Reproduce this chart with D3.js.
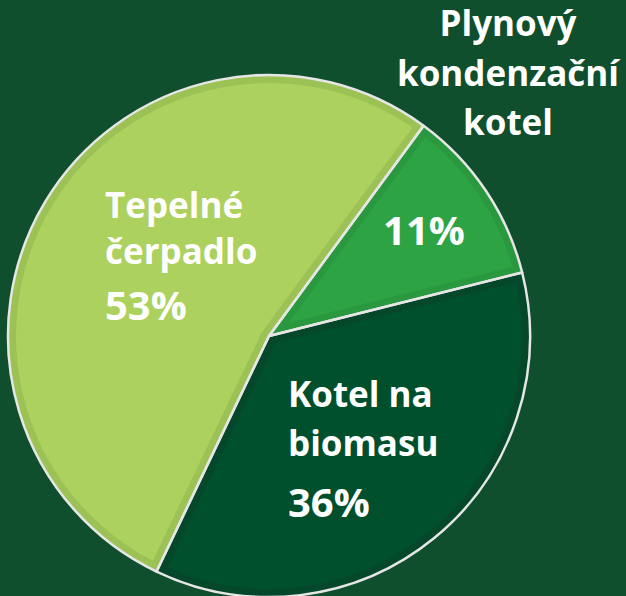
<!DOCTYPE html>
<html>
<head>
<meta charset="utf-8">
<script src="https://cdn.jsdelivr.net/npm/d3@7"></script>
<style>
  body { margin: 0; background: #0f4f2d; }
  svg { display: block; }
  text { font-family: "Open Sans", "Noto Sans", sans-serif; font-weight: 700; fill: #fff; }
</style>
</head>
<body>
<div id="pie_chart"></div>
<script>
// data
const categories = ["Plynový kondenzační kotel", "Kotel na biomasu", "Tepelné čerpadlo"];
const values = [11, 36, 53];
const nameLines = [["Plynový", "kondenzační", "kotel"], ["Kotel na", "biomasu"], ["Tepelné", "čerpadlo"]];

// styles
const fills = ["#2ea344", "#004f2d", "#acd15e"];
const bands = ["#2a983e", "#05472a", "#9cc155"];

const width = 626, height = 596;
const cx = 269, cy = 336, radius = 261;

const svg = d3.select("#pie_chart")
  .append("svg")
    .attr("width", width)
    .attr("height", height);

svg.append("rect")
  .attr("width", width)
  .attr("height", height)
  .attr("fill", "#0f4f2d");

const g = svg.append("g")
  .attr("transform", `translate(${cx}, ${cy})`);

const pie = d3.pie()
  .sort(null)
  .startAngle(0.634)
  .endAngle(0.634 + 2 * Math.PI);

const arc = d3.arc().innerRadius(0).outerRadius(radius);
const arcs = pie(values);

// clip for inner band
const defs = svg.append("defs");
defs.selectAll("clipPath")
  .data(arcs)
  .join("clipPath")
    .attr("id", (d, i) => "clip" + i)
  .append("path")
    .attr("d", arc);

g.selectAll("path.slice")
  .data(arcs)
  .join("path")
    .attr("class", "slice")
    .attr("d", arc)
    .attr("fill", (d, i) => fills[i]);

g.selectAll("path.band")
  .data(arcs)
  .join("path")
    .attr("class", "band")
    .attr("d", arc)
    .attr("fill", "none")
    .attr("stroke", (d, i) => bands[i])
    .attr("stroke-width", 16)
    .attr("stroke-linejoin", "round")
    .attr("clip-path", (d, i) => `url(#clip${i})`);

g.selectAll("path.edge")
  .data(arcs)
  .join("path")
    .attr("class", "edge")
    .attr("d", arc)
    .attr("fill", "none")
    .attr("stroke", "#e6e6e6")
    .attr("stroke-width", 2.5)
    .attr("stroke-linejoin", "round");

// label layout: [x, y of first line, line step, anchor]
const nameLayout = [[508, 36, 49.5, "middle"], [288, 407, 49, "start"], [105, 218, 46, "start"]];
const pctLayout = [[424, 245, "middle"], [288, 517, "start"], [105, 320, "start"]];

nameLines.forEach(function(lines, i) {
  const [x, y0, step, anchor] = nameLayout[i];
  svg.append("text")
    .attr("text-anchor", anchor)
    .style("font-size", "35px")
    .selectAll("tspan")
    .data(lines)
    .join("tspan")
      .attr("x", x)
      .attr("y", (d, j) => y0 + j * step)
      .text(d => d);
});

svg.selectAll("text.pct")
  .data(values)
  .join("text")
    .attr("class", "pct")
    .attr("x", (d, i) => pctLayout[i][0])
    .attr("y", (d, i) => pctLayout[i][1])
    .attr("text-anchor", (d, i) => pctLayout[i][2])
    .style("font-size", "40px")
    .text(d => d + "%");
</script>
</body>
</html>
